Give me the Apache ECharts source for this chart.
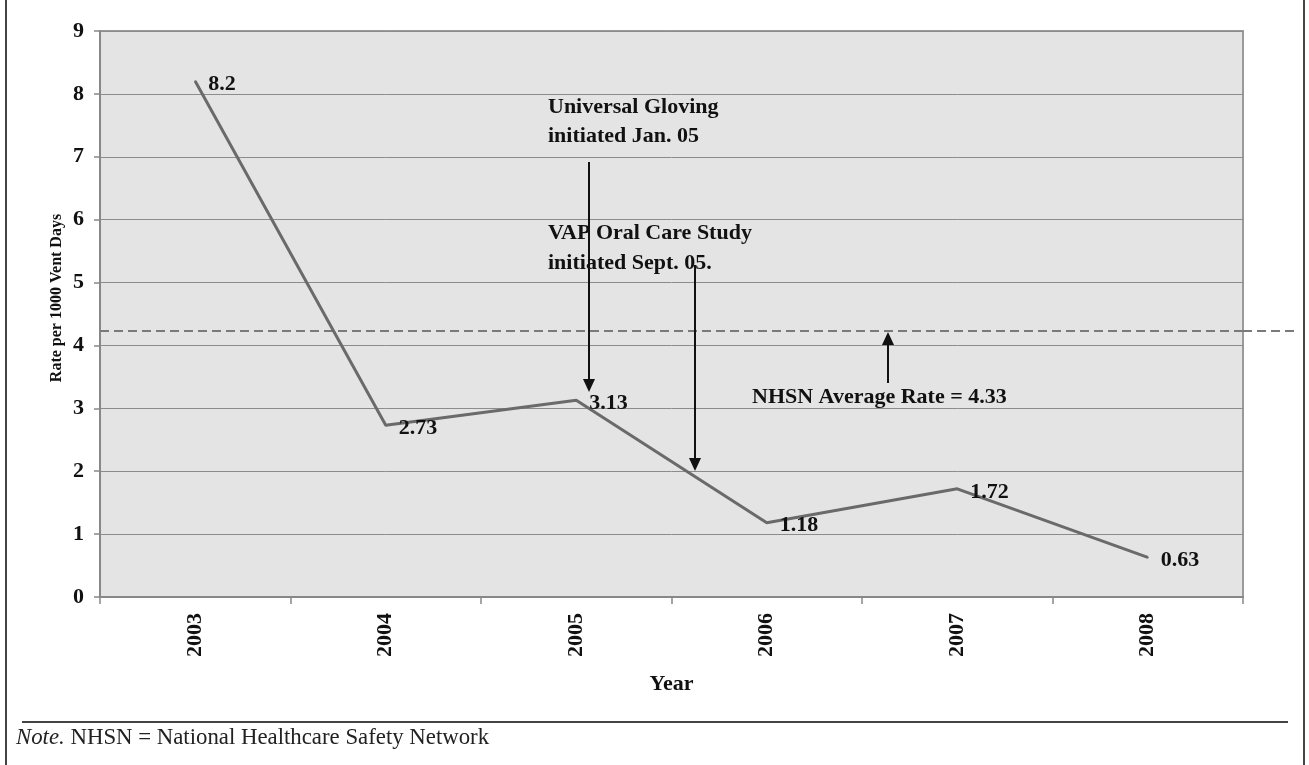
<!DOCTYPE html>
<html><head><meta charset="utf-8">
<script src="https://cdn.jsdelivr.net/npm/echarts@6/dist/echarts.min.js"></script>
<style>html,body{margin:0;padding:0;background:#fff}#c{width:1309px;height:765px}</style>
</head><body><div id="c"></div>
<script>
const years = ['2003', '2004', '2005', '2006', '2007', '2008'];
const rates = [8.2, 2.73, 3.13, 1.18, 1.72, 0.63];
const yMin = 0, yMax = 9, yStep = 1;
const nhsnLineValue = 4.23;
const yAxisTitle = 'Rate per 1000 Vent Days';
const xAxisTitle = 'Year';
const noteItalic = 'Note.';
const noteText = ' NHSN = National Healthcare Safety Network';
const annoGloving = ['Universal Gloving', 'initiated Jan. 05'];
const annoVap = ['VAP Oral Care Study', 'initiated Sept. 05.'];
const annoNhsn = 'NHSN Average Rate = 4.33';

const FONT = '"Liberation Serif", "Times New Roman", serif';
const chart = echarts.init(document.getElementById('c'), null, {renderer: 'canvas'});

function arrow(x, y1, y2) {
  const dir = y2 > y1 ? 1 : -1;
  const headLen = 13, headHalf = 6;
  return [
    {type: 'line', shape: {x1: x, y1: y1, x2: x, y2: y2 - dir * headLen}, style: {stroke: '#111', lineWidth: 2}, z: 50},
    {type: 'polygon', shape: {points: [[x - headHalf, y2 - dir * headLen], [x + headHalf, y2 - dir * headLen], [x, y2]]}, style: {fill: '#111'}, z: 50}
  ];
}

const textStyle = {font: 'bold 22px ' + FONT, fill: '#111'};

const option = {
  backgroundColor: '#fff',
  animation: false,
  grid: {left: 100, right: 66, top: 31, bottom: 168, show: true, backgroundColor: '#e4e4e4', borderColor: '#9a9a9a', borderWidth: 2},
  xAxis: {
    type: 'category', data: years, boundaryGap: true,
    name: xAxisTitle, nameLocation: 'middle', nameGap: 76,
    nameTextStyle: {fontFamily: FONT, fontWeight: 'bold', fontSize: 22, color: '#111'},
    axisLine: {lineStyle: {color: '#888', width: 2}},
    axisTick: {show: true, length: 7, lineStyle: {color: '#888', width: 1.5}},
    axisLabel: {rotate: 90, margin: 16, fontFamily: FONT, fontWeight: 'bold', fontSize: 22, color: '#111'},
    splitLine: {show: false}
  },
  yAxis: {
    type: 'value', min: yMin, max: yMax, interval: yStep,
    axisLine: {show: true, lineStyle: {color: '#888', width: 2}},
    axisTick: {show: true, length: 6, lineStyle: {color: '#888', width: 1.5}},
    axisLabel: {margin: 16, fontFamily: FONT, fontWeight: 'bold', fontSize: 22, color: '#111'},
    splitLine: {show: true, lineStyle: {color: '#8c8c8c', width: 1}}
  },
  series: [{
    type: 'line', data: rates, symbol: 'circle', symbolSize: 2, showSymbol: true,
    itemStyle: {color: '#6a6a6a'},
    lineStyle: {color: '#6a6a6a', width: 3},
    label: {show: true, position: 'right', distance: 12, offset: [0, 3], formatter: p => String(p.value),
      fontFamily: FONT, fontWeight: 'bold', fontSize: 22, color: '#111'},
    markLine: {
      silent: true, symbol: 'none', label: {show: false},
      lineStyle: {color: '#7a7a7a', type: [9, 5], width: 2},
      data: [{yAxis: nhsnLineValue}]
    },
    z: 10
  }]
};
chart.setOption(option);

const yDash = chart.convertToPixel({yAxisIndex: 0}, nhsnLineValue);
const graphics = [
  {type: 'line', shape: {x1: 6, y1: 0, x2: 6, y2: 765}, style: {stroke: '#444', lineWidth: 2}},
  {type: 'line', shape: {x1: 1304, y1: 0, x2: 1304, y2: 765}, style: {stroke: '#444', lineWidth: 2}},
  {type: 'line', shape: {x1: 22, y1: 722, x2: 1288, y2: 722}, style: {stroke: '#444', lineWidth: 2}},
  {type: 'line', shape: {x1: 1243, y1: yDash, x2: 1296, y2: yDash}, style: {stroke: '#7a7a7a', lineWidth: 2, lineDash: [9, 5]}},
  {type: 'text', x: 16, y: 738, style: {text: '{i|' + noteItalic + '}{n|' + noteText + '}', verticalAlign: 'middle',
    rich: {i: {font: 'italic 22.8px ' + FONT, fill: '#222'}, n: {font: '22.8px ' + FONT, fill: '#222'}}}},
  {type: 'text', x: 57, y: 298, rotation: Math.PI / 2, style: {text: yAxisTitle, font: 'bold 16px ' + FONT, fill: '#111', align: 'center', verticalAlign: 'middle'}},
  {type: 'text', left: 548, top: 93, style: Object.assign({text: annoGloving.join('\n'), lineHeight: 29}, textStyle), z: 50},
  {type: 'text', left: 548, top: 218, style: Object.assign({text: annoVap.join('\n'), lineHeight: 30}, textStyle), z: 50},
  {type: 'text', left: 752, top: 386, style: Object.assign({text: annoNhsn}, textStyle), z: 50},
  ...arrow(589, 162, 392),
  ...arrow(695, 265, 471),
  ...arrow(888, 383, yDash + 1)
];
chart.setOption({graphic: graphics});
</script>
</body></html>
